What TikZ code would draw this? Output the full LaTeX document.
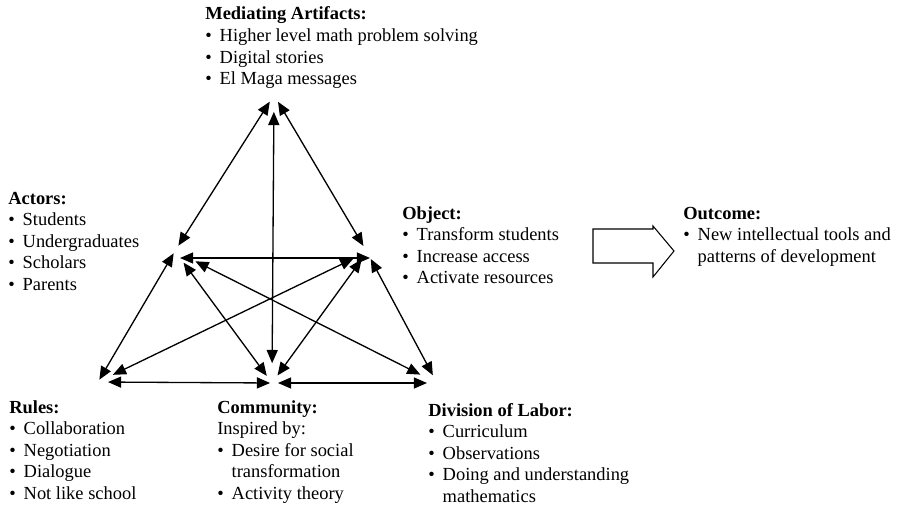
\documentclass[tikz,border=0pt]{standalone}
\usepackage{fontspec}
\setmainfont{Liberation Serif}
\usetikzlibrary{arrows.meta}

\newcommand{\bul}{\textbullet\hspace{4.5pt}}
\newcommand{\ind}{\hphantom{\bul}}
\newcommand{\blk}[1]{\begin{tabular}[t]{@{}l@{}}#1\end{tabular}}

\tikzset{
    lbl/.style={anchor=base west, inner sep=0pt, font=\fontsize{10.5}{12.3}\selectfont},
    link/.style={line width=0.75pt, {Triangle[length=7.5pt,width=6.3pt]}-{Triangle[length=7.5pt,width=6.3pt]}}
}

\begin{document}
\begin{tikzpicture}[x=0.02cm, y=-0.02cm]
    \useasboundingbox (0,0) rectangle (899,510);

    % Corners of the triangle
    \coordinate (art) at (274,95);
    \coordinate (subj) at (175,251);
    \coordinate (obj) at (367,252);
    \coordinate (rules) at (98,382);
    \coordinate (comm) at (272,383);
    \coordinate (labor) at (437,383);

    % Texts
    \node[lbl] (artText) at (205,20) {\blk{\textbf{Mediating Artifacts:}\\ \bul Higher level math problem solving\\ \bul Digital stories\\ \bul El Maga messages}};
    \node[lbl] (subjText) at (8,204) {\blk{\textbf{Actors:}\\ \bul Students\\ \bul Undergraduates\\ \bul Scholars\\ \bul Parents}};
    \node[lbl] (objText) at (402,219) {\blk{\textbf{Object:}\\ \bul Transform students\\ \bul Increase access\\ \bul Activate resources}};
    \node[lbl] (outText) at (683,219) {\blk{\textbf{Outcome:}\\ \bul New intellectual tools and\\ \ind patterns of development}};
    \node[lbl] (rulesText) at (9,413) {\blk{\textbf{Rules:}\\ \bul Collaboration\\ \bul Negotiation\\ \bul Dialogue\\ \bul Not like school}};
    \node[lbl] (commText) at (217,413) {\blk{\textbf{Community:}\\ Inspired by:\\ \bul Desire for social\\ \ind transformation\\ \bul Activity theory}};
    \node[lbl] (laborText) at (428,416) {\blk{\textbf{Division of Labor:}\\ \bul Curriculum\\ \bul Observations\\ \bul Doing and understanding\\ \ind mathematics}};

    % Sides of the triangle
    \draw[link, shorten <=3.6pt, shorten >=4.5pt] (subj) -- (art);
    \draw[link, shorten <=4pt, shorten >=4.5pt] (obj) -- (art);
    \draw[link, shorten <=1.5pt, shorten >=1.5pt] (subj) -- (rules);
    \draw[link, shorten <=4.5pt, shorten >=5pt] (obj) -- (labor);
    \draw[link, shorten <=5.7pt, shorten >=1.1pt] (rules) -- (comm);
    \draw[link, shorten <=3.4pt, shorten >=5.7pt] (comm) -- (labor);

    % Inner links
    \draw[link, shorten <=11.3pt, shorten >=9.6pt] (comm) -- (art);
    \draw[link] ([shift={(5,7)}]subj) -- ([shift={(3,6)}]obj);
    \draw[link, shorten <=9.4pt, shorten >=8.6pt] (rules) -- (obj);
    \draw[link, shorten <=8.2pt, shorten >=5pt] (subj) -- (comm);
    \draw[link, shorten <=13pt, shorten >=10.6pt] (subj) -- (labor);
    \draw[link, shorten <=5.3pt, shorten >=5.2pt] (comm) -- (obj);

    % Outcome arrow
    \draw[line width=0.6pt] (593,229) -- (653,229) -- (653,226) -- (674,251)
        -- (653,277) -- (653,263) -- (593,263) -- cycle;
\end{tikzpicture}
\end{document}
